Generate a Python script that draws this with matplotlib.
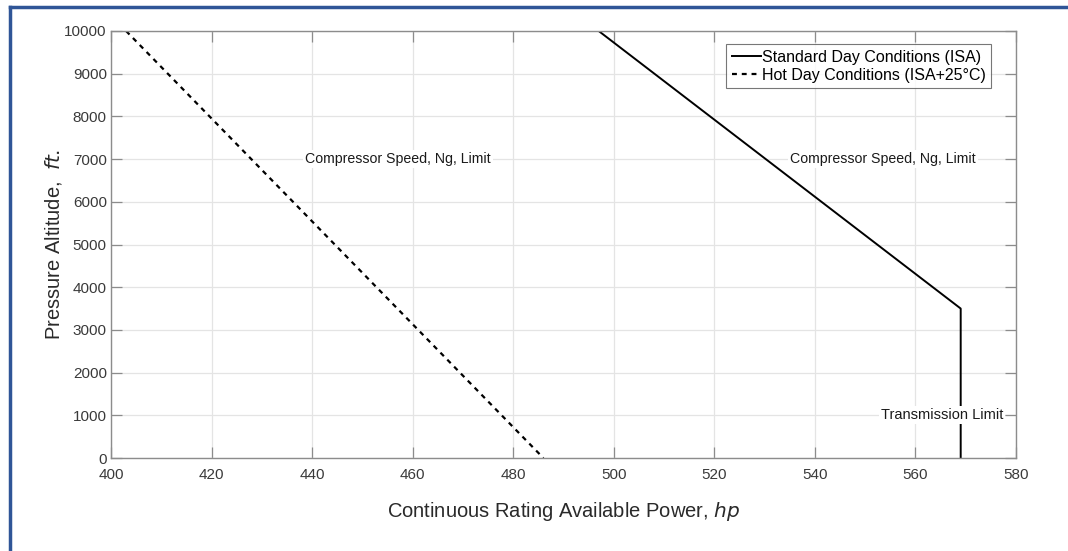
import matplotlib
matplotlib.use("Agg")
import matplotlib.pyplot as plt
from matplotlib.lines import Line2D

plt.rcParams['font.family'] = ['Liberation Sans', 'DejaVu Sans']

# power available vs pressure altitude
isa_hp = [497, 569, 569]
isa_alt = [10000, 3500, 0]
hot_hp = [403, 486]
hot_alt = [10000, 0]

x_ticks = [400, 420, 440, 460, 480, 500, 520, 540, 560, 580]
y_ticks = [0, 1000, 2000, 3000, 4000, 5000, 6000, 7000, 8000, 9000, 10000]

fig = plt.figure(figsize=(10.68, 5.51), dpi=100)
ax = fig.add_axes([111 / 1068, 1 - 458 / 551, 905 / 1068, 427 / 551])

ax.plot(isa_hp, isa_alt, color='black', lw=1.4, label='Standard Day Conditions (ISA)')
ax.plot(hot_hp, hot_alt, color='black', lw=1.6, ls=(0, (2.2, 2.2)),
        label='Hot Day Conditions (ISA+25°C)')

ax.set_xlim(400, 580)
ax.set_ylim(0, 10000)
ax.set_xticks(x_ticks)
ax.set_yticks(y_ticks)

ax.grid(True, color='#e4e4e4', lw=0.9)
ax.set_axisbelow(True)
for s in ax.spines.values():
    s.set_color('#8c8c8c')
    s.set_linewidth(1.0)
ax.tick_params(direction='in', length=8, width=0.9, color='#8c8c8c',
               labelcolor='#3a3a3a', labelsize=11, top=True, right=True, pad=3)
ax.tick_params(axis='x', pad=7)

ax.set_xlabel('Continuous Rating Available Power, $\\it{hp}$', fontsize=14.5,
              color='#2a2a2a', labelpad=13)
ax.set_ylabel('Pressure Altitude,  $\\it{ft.}$', fontsize=14.5, color='#2a2a2a', labelpad=0)

box = dict(facecolor='white', edgecolor='none', pad=1.5)
ax.text(457, 7000, 'Compressor Speed, Ng, Limit', ha='center', va='center',
        fontsize=10.2, color='#1a1a1a', bbox=box)
ax.text(553.5, 7000, 'Compressor Speed, Ng, Limit', ha='center', va='center',
        fontsize=10.2, color='#1a1a1a', bbox=box)
ax.text(565.3, 1000, 'Transmission Limit', ha='center', va='center',
        fontsize=10.5, color='#1a1a1a', bbox=box)

leg = ax.legend(loc='upper right', bbox_to_anchor=(0.9724, 0.9696), fontsize=11.5,
                frameon=True, fancybox=False, handlelength=1.8, handletextpad=0.05,
                borderpad=0.35, labelspacing=0.2, borderaxespad=0.0)
leg.get_frame().set_edgecolor('#555555')
leg.get_frame().set_linewidth(0.8)

# frame around the figure (left and top edges)
blue = '#2f5597'
fig.add_artist(Line2D([9.5 / 1068, 9.5 / 1068], [0, 1 - 7 / 551],
                      color=blue, lw=2.5, transform=fig.transFigure))
fig.add_artist(Line2D([9.5 / 1068, 1], [1 - 7 / 551, 1 - 7 / 551],
                      color=blue, lw=2.5, transform=fig.transFigure))

fig.savefig('out.png', dpi=100)
